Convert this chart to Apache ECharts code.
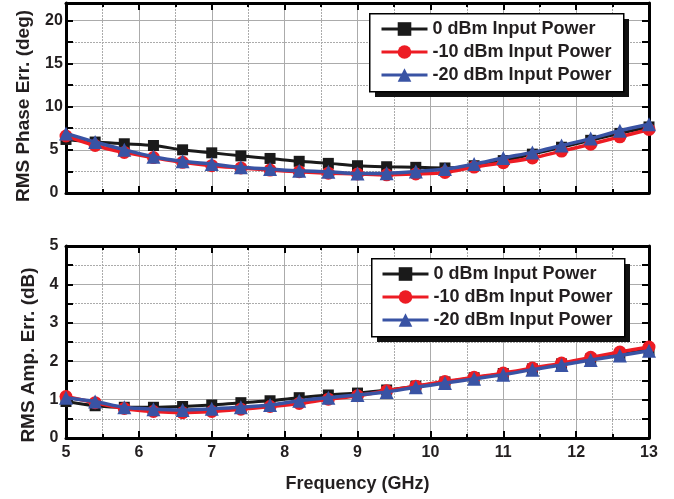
<!DOCTYPE html>
<html>
<head>
<meta charset="utf-8">
<script src="https://cdn.jsdelivr.net/npm/echarts@6/dist/echarts.min.js"></script>
<style>html,body{margin:0;padding:0;background:#fff}#c{width:674px;height:499px}</style>
</head>
<body>
<div id="c"></div>
<script>
// Frequency points (GHz)
const freq = [5.0, 5.4, 5.8, 6.2, 6.6, 7.0, 7.4, 7.8, 8.2, 8.6, 9.0, 9.4, 9.8, 10.2, 10.6, 11.0, 11.4, 11.8, 12.2, 12.6, 13.0];
const seriesNames = ['0 dBm Input Power', '-10 dBm Input Power', '-20 dBm Input Power'];
// RMS phase error (deg)
const phase0dBm  = [6.2, 5.9, 5.7, 5.5, 5.0, 4.65, 4.3, 4.0, 3.67, 3.43, 3.16, 3.04, 2.97, 2.9, 3.16, 3.75, 4.5, 5.3, 6.1, 6.9, 7.65];
const phase10dBm = [6.6, 5.5, 4.7, 4.1, 3.55, 3.16, 2.9, 2.65, 2.46, 2.3, 2.2, 2.1, 2.2, 2.38, 3.0, 3.5, 4.05, 4.85, 5.65, 6.5, 7.35];
const phase20dBm = [6.9, 5.9, 5.0, 4.2, 3.67, 3.35, 2.97, 2.77, 2.57, 2.46, 2.26, 2.3, 2.5, 2.77, 3.35, 4.06, 4.7, 5.5, 6.3, 7.2, 7.96];
// RMS amplitude error (dB)
const amp0dBm  = [0.95, 0.84, 0.8, 0.8, 0.82, 0.86, 0.92, 0.97, 1.05, 1.12, 1.17, 1.25, 1.35, 1.46, 1.57, 1.68, 1.8, 1.93, 2.06, 2.18, 2.3];
const amp10dBm = [1.08, 0.92, 0.77, 0.69, 0.66, 0.69, 0.75, 0.82, 0.9, 1.01, 1.1, 1.23, 1.35, 1.47, 1.58, 1.69, 1.82, 1.95, 2.1, 2.24, 2.37];
const amp20dBm = [1.05, 0.95, 0.8, 0.75, 0.73, 0.76, 0.8, 0.86, 0.97, 1.05, 1.12, 1.2, 1.32, 1.43, 1.54, 1.65, 1.78, 1.9, 2.03, 2.15, 2.27];

const FONT = '"Liberation Sans", Arial, sans-serif';
const TXT = '#231f20';
const GRIDC = '#ababab';
const colors = ['#1a1a1a', '#ed1c24', '#3953a4'];
const symbols = ['rect', 'circle', 'triangle'];
const symSizes = [11, 13, 14];
const widths = [3, 3.5, 3.5];

function zip(ys) { return freq.map((f, i) => [f, ys[i]]); }

function xAxes(gi, showLabel) {
  return [{
    type: 'value', gridIndex: gi, min: 5, max: 13, interval: 1, position: 'bottom',
    axisLine: { show: true, onZero: false, lineStyle: { color: '#000', width: 3 } },
    axisTick: { show: true, inside: true, length: 7, lineStyle: { color: '#000', width: 2 } },
    minorTick: { show: true, splitNumber: 2, length: 4, lineStyle: { color: '#000', width: 2 } },
    splitLine: { show: true, lineStyle: { color: GRIDC, width: 1 } },
    minorSplitLine: { show: true, lineStyle: { color: GRIDC, width: 1, type: [2, 1] } },
    axisLabel: { show: showLabel, margin: 7, color: TXT, fontFamily: FONT, fontWeight: 'bold', fontSize: 16 },
    name: showLabel ? 'Frequency (GHz)' : '', nameLocation: 'middle', nameGap: 37,
    nameTextStyle: { color: TXT, fontFamily: FONT, fontWeight: 'bold', fontSize: 18 }
  }, {
    type: 'value', gridIndex: gi, min: 5, max: 13, interval: 1, position: 'top',
    axisLine: { show: true, onZero: false, lineStyle: { color: '#000', width: 3 } },
    axisTick: { show: true, inside: true, length: 7, lineStyle: { color: '#000', width: 2 } },
    minorTick: { show: true, splitNumber: 2, length: 4, lineStyle: { color: '#000', width: 2 } },
    splitLine: { show: false }, axisLabel: { show: false }
  }];
}

function yAxes(gi, max, step, majorEvery, name, gap, shiftDown, fmt) {
  return [{
    type: 'value', gridIndex: gi, min: 0, max: max, interval: step, position: 'left',
    axisLine: { show: true, onZero: false, lineStyle: { color: '#000', width: 3 } },
    axisTick: { show: true, inside: true, length: 7, lineStyle: { color: '#000', width: 2 } },
    splitLine: { show: true, lineStyle: { color: ['rgba(0,0,0,0)', GRIDC], width: 1, type: [2, 1] } },
    axisLabel: { show: true, showMaxLabel: max % majorEvery === 0, align: 'center', margin: 12, color: TXT, fontFamily: FONT, fontWeight: 'bold', fontSize: 16, formatter: fmt },
    name: name, nameLocation: 'middle', nameGap: gap,
    nameTextStyle: { color: TXT, fontFamily: FONT, fontWeight: 'bold', fontSize: 19, padding: [0, shiftDown * 2, 0, 0] }
  }, {
    type: 'value', gridIndex: gi, min: 0, max: max, interval: step, position: 'right',
    axisLine: { show: true, onZero: false, lineStyle: { color: '#000', width: 3 } },
    axisTick: { show: true, inside: true, length: 7, lineStyle: { color: '#000', width: 2 } },
    splitLine: { show: true, lineStyle: { color: [GRIDC, 'rgba(0,0,0,0)'], width: 1 } },
    axisLabel: { show: false }
  }];
}

function mkSeries(name, data, k, xi, yi) {
  return {
    name: name, type: 'line', xAxisIndex: xi, yAxisIndex: yi, data: zip(data),
    smooth: 0.3, symbol: symbols[k], symbolSize: symSizes[k],
    lineStyle: { color: colors[k], width: widths[k] },
    itemStyle: { color: colors[k], borderWidth: 0 },
    z: 3 + k, animation: false
  };
}

function mkLegend(left, top) {
  return {
    data: seriesNames, left: left, top: top, orient: 'vertical', z: 10,
    itemWidth: 46, itemHeight: 17, itemGap: 5, padding: 0,
    lineStyle: { width: 3 },
    textStyle: { color: TXT, fontFamily: FONT, fontWeight: 'bold', fontSize: 18, lineHeight: 18 },
    selectedMode: false
  };
}

function legendBox(x, y, w, h) {
  return [
    { type: 'rect', left: x + 6, top: y + 6, z: 8, shape: { width: w, height: h }, style: { fill: '#111' } },
    { type: 'rect', left: x, top: y, z: 9, shape: { width: w, height: h }, style: { fill: '#fff', stroke: '#000', lineWidth: 1.5 } }
  ];
}

const chart = echarts.init(document.getElementById('c'), null, { renderer: 'canvas' });
chart.setOption({
  animation: false,
  backgroundColor: '#fff',
  grid: [
    { left: 66, right: 25, top: 3, height: 190 },
    { left: 66, right: 25, top: 246, height: 192 }
  ],
  xAxis: [].concat(xAxes(0, false), xAxes(1, true)),
  yAxis: [].concat(
    yAxes(0, 22, 2.5, 5, 'RMS Phase Err. (deg)', 33, 8, v => (v % 5 === 0 ? String(v) : '')),
    yAxes(1, 5, 0.5, 1, 'RMS Amp. Err. (dB)', 24, 13, v => (Number.isInteger(v) ? String(v) : ''))
  ),
  graphic: [].concat(legendBox(369, 13, 254, 78), legendBox(371, 258, 253, 78)),
  legend: [mkLegend(380, 20), mkLegend(381, 265)],
  series: [
    mkSeries(seriesNames[0], phase0dBm, 0, 0, 0),
    mkSeries(seriesNames[1], phase10dBm, 1, 0, 0),
    mkSeries(seriesNames[2], phase20dBm, 2, 0, 0),
    mkSeries(seriesNames[0], amp0dBm, 0, 2, 2),
    mkSeries(seriesNames[1], amp10dBm, 1, 2, 2),
    mkSeries(seriesNames[2], amp20dBm, 2, 2, 2)
  ]
});
</script>
</body>
</html>
